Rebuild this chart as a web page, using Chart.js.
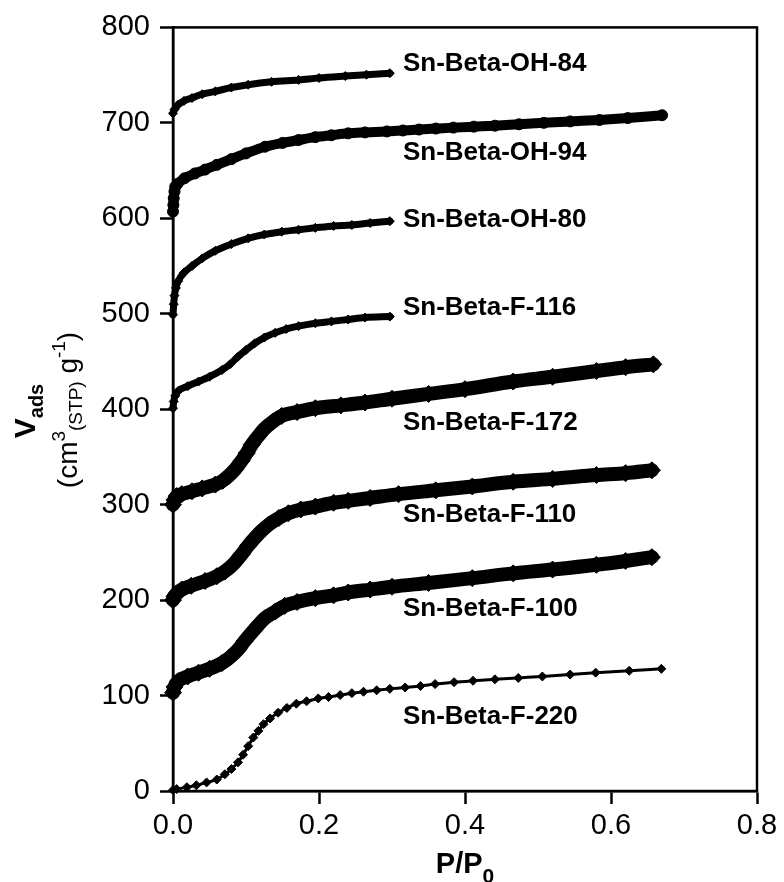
<!DOCTYPE html>
<html>
<head>
<meta charset="utf-8">
<script src="https://cdn.jsdelivr.net/npm/chart.js@4.4.1/dist/chart.umd.min.js"></script>
<style>
  html, body { margin: 0; padding: 0; background: #fff; }
  #wrap { width: 784px; height: 882px; }
</style>
</head>
<body>
<div id="wrap"><canvas id="iso" width="784" height="882"></canvas></div>
<script>
// N2 adsorption isotherms, offset stacked

const FONT = "Arial, 'Liberation Sans', sans-serif";

const xTicks = [0, 0.2, 0.4, 0.6, 0.8];
const yTicks = [0, 100, 200, 300, 400, 500, 600, 700, 800];

const seriesNames = ['Sn-Beta-OH-84', 'Sn-Beta-OH-94', 'Sn-Beta-OH-80', 'Sn-Beta-F-116',
                     'Sn-Beta-F-172', 'Sn-Beta-F-110', 'Sn-Beta-F-100', 'Sn-Beta-F-220'];
// where each name sits (P/P0, Vads)
const labelP = [0.315, 0.315, 0.315, 0.315, 0.315, 0.315, 0.315, 0.315];
const labelV = [763, 670, 599, 507, 387, 290, 192, 79];

const oh84P = [0, 0.002, 0.007, 0.015, 0.026, 0.04, 0.058, 0.08, 0.103, 0.135, 0.172, 0.2, 0.236, 0.265, 0.297];
const oh84V = [710, 714, 719, 723, 726, 730, 733, 737, 740, 743, 745, 747, 749, 750.5, 752];

const oh94P = [0, 0.0005, 0.001, 0.002, 0.003, 0.006, 0.016, 0.03, 0.044, 0.06, 0.08, 0.1, 0.126, 0.15, 0.172,
               0.195, 0.217, 0.24, 0.263, 0.293, 0.315, 0.337, 0.36, 0.384, 0.412, 0.441, 0.474, 0.508, 0.544,
               0.584, 0.623, 0.67];
const oh94V = [607, 614, 621, 628, 633, 636, 642, 647, 651, 656, 662, 668, 675, 679, 682,
               685, 687, 689, 690, 691, 692, 693, 694, 695, 696, 697, 698.5, 700, 701.5,
               703, 705, 708];

const oh80P = [0, 0.001, 0.002, 0.004, 0.007, 0.015, 0.026, 0.04, 0.058, 0.08, 0.103, 0.125, 0.149, 0.172,
               0.195, 0.22, 0.245, 0.27, 0.297];
const oh80V = [499, 510, 519, 527, 534, 543, 550, 558, 566, 573, 579, 583, 586, 588, 590, 592, 593, 595, 597];

const f116P = [0, 0.001, 0.003, 0.007, 0.02, 0.035, 0.05, 0.067, 0.078, 0.089, 0.1, 0.112, 0.125, 0.14, 0.155,
               0.172, 0.195, 0.217, 0.24, 0.263, 0.297];
const f116V = [401, 408, 414, 419, 424, 429, 434, 441, 447, 455, 462, 469, 475, 480, 484, 487, 490, 492, 494, 496, 497];

const f172P = [0, 0.002, 0.005, 0.012, 0.026, 0.04, 0.058, 0.068, 0.076, 0.085, 0.094, 0.101, 0.108, 0.117,
               0.126, 0.137, 0.149, 0.17, 0.195, 0.23, 0.263, 0.3, 0.35, 0.4, 0.466, 0.52, 0.58, 0.62, 0.658];
const f172V = [300, 305, 309, 311, 314, 317, 321, 325, 330, 337, 346, 354, 363, 372,
               380, 387, 393, 397, 401, 404, 407, 411, 416, 421, 429, 434, 440, 444, 447];

const f110P = [0, 0.002, 0.005, 0.012, 0.025, 0.044, 0.06, 0.071, 0.083, 0.094, 0.103, 0.112, 0.122, 0.131,
               0.145, 0.158, 0.175, 0.195, 0.22, 0.24, 0.27, 0.309, 0.36, 0.41, 0.466, 0.52, 0.58, 0.62, 0.656];
const f110V = [200, 204, 207, 211, 215, 220, 225, 230, 238, 248, 257, 265, 273, 279,
               286, 291, 295, 298, 302, 304, 307, 311, 315, 319, 324, 327, 331, 333, 336];

const f100P = [0, 0.002, 0.007, 0.02, 0.035, 0.05, 0.067, 0.078, 0.089, 0.098, 0.108, 0.117, 0.126, 0.14,
               0.153, 0.17, 0.195, 0.22, 0.24, 0.27, 0.3, 0.35, 0.41, 0.466, 0.52, 0.58, 0.62, 0.656];
const f100V = [103, 109, 115, 120, 124, 128, 134, 140, 148, 157, 166, 174, 181, 188,
               194, 198, 202, 205, 208, 211, 214, 218, 223, 228, 232, 237, 241, 245];

const f220P = [0, 0.005, 0.019, 0.032, 0.046, 0.06, 0.071, 0.08, 0.089, 0.096, 0.103, 0.11, 0.117, 0.124,
               0.133, 0.144, 0.156, 0.169, 0.183, 0.199, 0.213, 0.229, 0.245, 0.261, 0.279, 0.297, 0.318,
               0.339, 0.359, 0.385, 0.411, 0.441, 0.473, 0.506, 0.544, 0.579, 0.625, 0.669];
const f220V = [1, 2, 4, 6, 9, 12, 17.5, 23, 30, 38, 47, 56, 63, 70,
               76, 82, 87, 91.5, 94, 97, 98.5, 100.5, 102.5, 104, 105.5, 107, 108.5,
               110, 112, 114, 115.5, 117, 118.5, 120, 122, 124, 126, 128];

function pts(P, V) {
  return P.map((p, i) => ({ x: p, y: V[i] }));
}

function curve(P, V, lineW, style, r) {
  return {
    data: pts(P, V),
    borderColor: '#000',
    backgroundColor: '#000',
    borderWidth: lineW,
    borderJoinStyle: 'round',
    borderCapStyle: 'round',
    cubicInterpolationMode: 'monotone',
    pointStyle: style,
    pointRadius: r,
    pointBorderWidth: 1,
    pointBorderColor: '#000',
    pointBackgroundColor: '#000',
    clip: false
  };
}

// draw a row of text pieces (for sub/superscripts), centred on cx
function drawRuns(ctx, runs, cx, by) {
  let w = 0;
  for (const r of runs) { ctx.font = r.f; w += ctx.measureText(r.t).width; }
  let x = cx - w / 2;
  ctx.textAlign = 'left';
  ctx.textBaseline = 'alphabetic';
  for (const r of runs) {
    ctx.font = r.f;
    ctx.fillText(r.t, x, by + (r.dy || 0));
    x += ctx.measureText(r.t).width;
  }
}

const annotate = {
  id: 'annotate',
  afterDraw(chart) {
    const { ctx, chartArea: a, scales } = chart;
    ctx.save();
    ctx.strokeStyle = '#000';
    ctx.lineWidth = 2.5;
    ctx.strokeRect(a.left, a.top, a.right - a.left, a.bottom - a.top);

    ctx.fillStyle = '#000';
    ctx.font = 'bold 26px ' + FONT;
    ctx.textAlign = 'left';
    ctx.textBaseline = 'middle';
    seriesNames.forEach((n, i) => {
      ctx.fillText(n, scales.x.getPixelForValue(labelP[i]), scales.y.getPixelForValue(labelV[i]) + 1);
    });

    // x title
    drawRuns(ctx, [
      { t: 'P/P', f: 'bold 29px ' + FONT },
      { t: '0', f: 'bold 21px ' + FONT, dy: 10 }
    ], 465, 873);

    // y title, two rotated lines
    ctx.save();
    ctx.translate(35, 411);
    ctx.rotate(-Math.PI / 2);
    drawRuns(ctx, [
      { t: 'V', f: 'bold 30px ' + FONT },
      { t: 'ads', f: 'bold 20px ' + FONT, dy: 8 }
    ], 0, 0);
    ctx.restore();

    ctx.save();
    ctx.translate(77, 410);
    ctx.rotate(-Math.PI / 2);
    drawRuns(ctx, [
      { t: '(cm', f: '28px ' + FONT },
      { t: '3', f: '19px ' + FONT, dy: -12 },
      { t: '(STP)', f: '19px ' + FONT, dy: 5 },
      { t: ' g', f: '28px ' + FONT },
      { t: '-1', f: '19px ' + FONT, dy: -12 },
      { t: ')', f: '28px ' + FONT }
    ], 0, 0);
    ctx.restore();
    ctx.restore();
  }
};

new Chart(document.getElementById('iso'), {
  type: 'line',
  data: {
    datasets: [
      curve(oh84P, oh84V, 7, 'rectRot', 4.5),
      curve(oh94P, oh94V, 10, 'circle', 5.5),
      curve(oh80P, oh80V, 7, 'rectRot', 4.5),
      curve(f116P, f116V, 7, 'rectRot', 4.5),
      curve(f172P, f172V, 14, 'rectRot', 8.5),
      curve(f110P, f110V, 14, 'rectRot', 8.5),
      curve(f100P, f100V, 14, 'rectRot', 8.5),
      curve(f220P, f220V, 3, 'rectRot', 4.5)
    ]
  },
  options: {
    responsive: false,
    animation: false,
    events: [],
    layout: { padding: { left: 0, right: 27, top: 26, bottom: 0 } },
    plugins: { legend: { display: false }, tooltip: { enabled: false } },
    scales: {
      x: {
        type: 'linear',
        min: 0,
        max: 0.8,
        afterBuildTicks: s => { s.ticks = xTicks.map(v => ({ value: v })); },
        afterFit: s => { s.height = 91; },
        grid: { drawOnChartArea: false, drawTicks: true, tickLength: 13, tickColor: '#000', tickWidth: 2.5 },
        border: { display: true, color: '#000', width: 2.5 },
        ticks: {
          color: '#000',
          padding: 5,
          maxRotation: 0,
          font: { family: FONT, size: 29 },
          callback: v => v.toFixed(1)
        }
      },
      y: {
        min: 0,
        max: 800,
        afterBuildTicks: s => { s.ticks = yTicks.map(v => ({ value: v })); },
        afterFit: s => { s.width = 173; },
        grid: { drawOnChartArea: false, drawTicks: true, tickLength: 13, tickColor: '#000', tickWidth: 2.5 },
        border: { display: true, color: '#000', width: 2.5 },
        ticks: {
          color: '#000',
          padding: 10,
          font: { family: FONT, size: 29 }
        }
      }
    }
  },
  plugins: [annotate]
});
</script>
</body>
</html>
